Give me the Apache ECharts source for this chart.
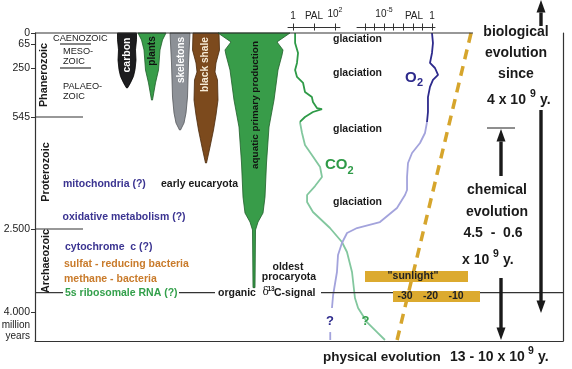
<!DOCTYPE html>
<html><head><meta charset="utf-8">
<script src="https://cdn.jsdelivr.net/npm/echarts@6/dist/echarts.min.js"></script>
<style>html,body{margin:0;padding:0;background:#fff}#c{width:572px;height:369px}</style>
</head><body><div id="c"></div>
<script>
// ================= DATA =================
// left time axis (million years)
const ageTicks = [0, 65, 250, 545, 2500, 4000];
const ageTickLabels = ['0', '65', '250', '545', '2.500', '4.000'];

// spindle diagrams: age (Ma) vs relative half-width
const carbonAges = [0, 40, 110, 190, 260, 300, 320, 345, 370];
const carbonWidth = [9.5, 9.5, 8.5, 9, 8, 6.5, 5, 3, 0.5];
const plantsAges = [0, 41, 111, 262, 340, 443];
const plantsWidth = [14, 10.5, 8, 6.5, 3.5, 0.5];
const skeletonAges = [0, 211, 425, 521, 650, 772];
const skeletonWidth = [10, 8.5, 7.5, 6, 4, 0.5];
const shaleAges = [0, 111, 211, 274, 322, 443, 533, 772, 1069, 1348];
const shaleWidth = [13, 13.5, 10, 9, 11.5, 12, 10, 7.5, 4, 0.5];
const aquaticAges = [0, 53, 111, 150, 262, 443, 720, 1348, 1941, 2221, 2378, 2518, 3560];
const aquaticWidth = [36, 23, 29, 28, 24, 20, 15, 12.5, 11, 9, 4, 1.5, 1];

// CO2 (log10 PAL) vs age
const co2DarkAges = [0, 59, 134, 211, 262, 304, 340, 394, 425, 455, 491, 497, 515, 545, 632];
const co2DarkPal  = [0.10, 0.10, 0.24, 0.19, 0.10, 0.19, 0.48, 0.57, 0.90, 0.95, 1.14, 1.38, 0.95, 0.57, 0.33];
const co2LightAges = [632, 824, 1034, 1208, 1418, 1592, 1750, 1907, 2029, 2203, 2483, 2735, 2916, 3277, 3747, 3928, 4179, 4358, 4500];
const co2LightPal  = [0.33, 0.43, 0.57, 0.90, 1.29, 1.38, 1.05, 0.67, 0.67, 0.95, 1.76, 2.33, 2.57, 2.81, 2.95, 3.10, 3.52, 4.0, 4.38];

// O2 (log10 PAL) vs age
const o2DarkAges = [0, 59, 134, 211, 250, 292, 322, 364, 425, 515, 632];
const o2DarkPal  = [0, 0.1, 0, -0.21, 0.31, 0.63, 0.1, -0.21, -0.42, -0.42, -0.52];
const o2LightAges = [632, 824, 999, 1173, 1348, 1592, 1819, 1907, 2133, 2378, 2483, 2572, 2753, 2970, 3277, 3693, 3928];
const o2LightPal  = [-0.52, -0.73, -1.25, -2.08, -2.5, -2.6, -2.6, -2.81, -3.65, -5.42, -7.81, -8.85, -9.38, -9.79, -9.9, -10.3, -10.42];
const o2TailAges = [4358, 4500];
const o2TailPal  = [-10.6, -10.6];

// PAL scales
const co2TickValues = [0, 1, 2];
const co2LabelValues = [0, 1, 2];
const co2Labels = ['1', 'PAL', '10{s|2}'];
const o2TickValues = [-7, -6, -5, -4, -3, -2, -1, 0];
const o2LabelValues = [-5, -1.875, 0];
const o2Labels = ['10{s|-5}', 'PAL', '1'];

// sunlight (relative luminosity, %) vs age
const sunAges = [0, 4500];
const sunLum = [-4.1, -33.1];
const lumLabels = [-30, -20, -10];

// events
const glaciationAges = [35, 280, 750, 2030];
const d13CAge = 3650;

// ================= LAYOUT / SCALE =================
const FONT = '"Liberation Sans", Arial, Helvetica, sans-serif';
const G = {left: 35, top: 33, width: 528, height: 308};
const GR = G.left + G.width;
const DEPTH_AGES = [0, 65, 250, 545, 2500, 4000, 4500];
const DEPTHS = [0, 11, 35, 84, 196, 279, 307];
function depth(age) {
  let i = 1;
  while (i < DEPTH_AGES.length - 1 && age > DEPTH_AGES[i]) i++;
  return DEPTHS[i - 1] + (age - DEPTH_AGES[i - 1]) * (DEPTHS[i] - DEPTHS[i - 1]) / (DEPTH_AGES[i] - DEPTH_AGES[i - 1]);
}
function py(age) { return G.top + depth(age); }
const LUM0 = 481.5, LUMPX = 2.55;           // luminosity scale
const CO2G = {left: 288, width: 52, zero: 293, perDec: 21};
const O2G = {left: 357, width: 78, zero: 432, perDec: 9.6};

const spindles = [
  {ages: carbonAges, widths: carbonWidth, cx: 127, fill: '#1d1d1f', stroke: '#000'},
  {ages: plantsAges, widths: plantsWidth, cx: 152, fill: '#389c49', stroke: '#1f5e2a'},
  {ages: skeletonAges, widths: skeletonWidth, cx: 180, fill: '#8d9197', stroke: '#55585c'},
  {ages: shaleAges, widths: shaleWidth, cx: 206, fill: '#7c4a1d', stroke: '#4a2a0c'},
  {ages: aquaticAges, widths: aquaticWidth, cx: 254, fill: '#389c49', stroke: '#1f5e2a'}
];

const series = [];
spindles.forEach(s => {
  series.push({
    type: 'custom', xAxisIndex: 0, yAxisIndex: 0, silent: true, z: 3,
    data: s.ages.map((a, i) => [a, s.widths[i]]),
    renderItem: (p, api) => {
      if (p.dataIndex !== 0) return null;
      const L = [], R = [];
      for (let i = 0; i < s.ages.length; i++) {
        const d = depth(s.ages[i]);
        L.push(api.coord([s.cx - s.widths[i], d]));
        R.unshift(api.coord([s.cx + s.widths[i], d]));
      }
      return {type: 'polygon', shape: {points: L.concat(R)}, style: {fill: s.fill, stroke: s.stroke, lineWidth: 0.8}};
    }
  });
});
function lineSeries(xi, xs, ages, color, w, extra) {
  return Object.assign({
    type: 'line', xAxisIndex: xi, yAxisIndex: 0, clip: false, silent: true,
    showSymbol: false, symbol: 'none', animation: false, z: 4,
    data: ages.map((a, i) => [xs[i], depth(a)]),
    lineStyle: {color: color, width: w}
  }, extra || {});
}
// xAxis 2 = CO2 scale, xAxis 3 = O2 scale (both spanning the main grid)
series.push(lineSeries(2, co2LightPal, co2LightAges, '#82c79e', 1.8));
series.push(lineSeries(2, co2DarkPal, co2DarkAges, '#2e9a47', 1.8));
series.push(lineSeries(3, o2LightPal, o2LightAges, '#a3a3dc', 1.8));
series.push(lineSeries(3, o2TailPal, o2TailAges, '#a3a3dc', 1.8));
series.push(lineSeries(3, o2DarkPal, o2DarkAges, '#2d2a8c', 1.8));
series.push(lineSeries(1, sunLum, sunAges, '#d6a52c', 3.5, {lineStyle: {color: '#d6a52c', width: 3.5, type: [10, 7], cap: 'butt'}}));

// ================= GRAPHIC =================
const gfx = [];
function text(t, x, y, o) {
  o = o || {};
  const al = o.align || 'left';
  gfx.push({type: 'text', x: x, y: y, rotation: o.rot || 0, z: 100, silent: true,
    style: {text: t, fill: o.color || '#1a1a1a', fontSize: o.size || 10.5,
      fontWeight: o.bold === false ? 'normal' : 'bold', fontFamily: o.family || FONT,
      align: al, textAlign: al, verticalAlign: 'middle', textVerticalAlign: 'middle'}});
}
function line(x1, y1, x2, y2, w, c) {
  gfx.push({type: 'line', z: 90, silent: true, shape: {x1, y1, x2, y2}, style: {stroke: c || '#333', lineWidth: w || 1}});
}
function rect(x, y, w, h, c) {
  gfx.push({type: 'rect', z: 95, silent: true, shape: {x, y, width: w, height: h}, style: {fill: c}});
}
function poly(pts, c) {
  gfx.push({type: 'polygon', z: 95, silent: true, shape: {points: pts}, style: {fill: c}});
}
function arrow(x, yFrom, yTip, c) {
  const dir = yTip < yFrom ? -1 : 1, hh = 12.5, hw = 4.5, sw = 1.7;
  const base = yTip - dir * hh;
  rect(x - sw, Math.min(yFrom, base), 2 * sw, Math.abs(base - yFrom) + 1, c);
  poly([[x, yTip], [x - hw, base], [x + hw, base]], c);
}

// frame top line
line(G.left, G.top, 473, G.top, 1.2, '#333');
// era boundary lines
line(60, py(65), 91, py(65), 1.2, '#333');
line(60, py(250), 91, py(250), 1.2, '#333');
line(G.left, py(545), 83, py(545), 1.2, '#333');
line(G.left, py(2500), 83, py(2500), 1.2, '#333');
// delta13C line segments
const yd = py(d13CAge);
line(G.left, yd, 63, yd, 1.2, '#333');
line(179, yd, 215, yd, 1.2, '#333');
line(321, yd, GR, yd, 1.2, '#333');

// era labels
text('CAENOZOIC', 53, 38, {bold: false, size: 9.2, color: '#222'});
text('MESO-', 63, 51, {bold: false, size: 9.2, color: '#222'});
text('ZOIC', 63, 61, {bold: false, size: 9.2, color: '#222'});
text('PALAEO-', 63, 86.5, {bold: false, size: 9.2, color: '#222'});
text('ZOIC', 63, 96.5, {bold: false, size: 9.2, color: '#222'});
text('Phanerozoic', 44.5, 75, {rot: Math.PI / 2, align: 'center', size: 10.8});
text('Proterozoic', 46.5, 172, {rot: Math.PI / 2, align: 'center', size: 10.8});
text('Archaeozoic', 46.5, 261, {rot: Math.PI / 2, align: 'center', size: 10.8});
text('million', 30, 325, {bold: false, size: 10, align: 'right', color: '#222'});
text('years', 30, 336.5, {bold: false, size: 10, align: 'right', color: '#222'});

// spindle labels
text('carbon', 127, 55, {rot: Math.PI / 2, align: 'center', color: '#fff', size: 10.5});
text('plants', 152, 51, {rot: Math.PI / 2, align: 'center', color: '#111', size: 10});
text('skeletons', 181, 60, {rot: Math.PI / 2, align: 'center', color: '#fff', size: 10});
text('black shale', 205.5, 64.5, {rot: Math.PI / 2, align: 'center', color: '#f6ecd8', size: 10.2});
text('aquatic primary production', 255, 105, {rot: Math.PI / 2, align: 'center', color: '#111', size: 9.9});

// biological events
const BLUE = '#3b3491', ORANGE = '#c97b2b', GREEN = '#33a04b';
text('mitochondria (?)', 63, 184, {color: BLUE});
text('early eucaryota', 161, 184);
text('oxidative metabolism (?)', 62.5, 217, {color: BLUE});
text('cytochrome  c (?)', 65, 247, {color: BLUE});
text('sulfat - reducing bacteria', 64, 264.5, {color: ORANGE});
text('methane - bacteria', 64, 279, {color: ORANGE});
text('5s ribosomale RNA (?)', 65, yd, {color: GREEN});
text('organic', 218, yd);
text('\u03b4', 262.5, yd, {size: 10.5, family: '"DejaVu Serif", "Liberation Serif", serif', bold: false});
text('13', 267.5, yd - 3.5, {size: 6.5});
text('C-signal', 274, yd);
text('oldest', 288, 267, {align: 'center'});
text('procaryota', 289, 277.5, {align: 'center'});

glaciationAges.forEach(a => text('glaciation', 333, py(a)));

text('CO', 325, 165, {size: 15, color: '#2e9a47'});
text('2', 347.5, 170.5, {size: 11, color: '#2e9a47'});
text('O', 405, 77.5, {size: 15, color: '#2d2a8c'});
text('2', 417, 82.5, {size: 11, color: '#2d2a8c'});
text('?', 330, 321, {size: 13, color: '#2d2a8c', align: 'center'});
text('?', 365.5, 321, {size: 13, color: '#33a04b', align: 'center'});

// sunlight boxes
const GOLD = '#dcaa2f';
rect(365, 271, 103, 11, GOLD);
rect(393, 291, 87, 11, GOLD);
text('"sunlight"', 413, 276.5, {align: 'center', color: '#222'});
lumLabels.forEach(v => text(String(v), LUM0 + LUMPX * v, 296.5, {align: 'center', color: '#222'}));

// right side: evolution arrows and texts
const AK = '#1a1a1a';
arrow(541, 25, 0, AK);
arrow(541, 110, 313, AK);
line(487, 128, 515, 128, 1.2, '#444');
arrow(501, 175, 129, AK);
arrow(501, 278, 340, AK);

text('biological', 516, 32, {size: 14, align: 'center'});
text('evolution', 516, 53, {size: 14, align: 'center'});
text('since', 516, 74, {size: 14, align: 'center'});
text('4 x 10', 487, 100, {size: 14});
text('9', 530, 94.5, {size: 10.5});
text('y.', 540, 100, {size: 14});
text('chemical', 497, 190, {size: 14, align: 'center'});
text('evolution', 497, 212, {size: 14, align: 'center'});
text('4.5  -  0.6', 493, 233, {size: 14, align: 'center'});
text('x 10', 462, 260, {size: 14});
text('9', 493, 254.5, {size: 10.5});
text('y.', 503, 260, {size: 14});
text('physical evolution', 323, 357, {size: 13.5});
text('13 - 10 x 10', 450, 357, {size: 14});
text('9', 528, 351.5, {size: 10.5});
text('y.', 538, 357, {size: 14});

// ================= OPTION =================
const tickDepths = ageTicks.map(depth);
const palLabelStyle = {fontSize: 10, color: '#222', fontFamily: FONT, margin: 6,
  rich: {s: {fontSize: 7, fontFamily: FONT, color: '#222', padding: [0, 0, 7, 0]}}};
function nearestLabel(vals, labels) {
  return v => { let k = 0, best = 1e9; vals.forEach((lv, i) => { if (Math.abs(lv - v) < best) { best = Math.abs(lv - v); k = i; } }); return labels[k]; };
}
function palAxes(gi, min, max, tickVals, labelVals, labels) {
  return [
    {gridIndex: gi, type: 'value', position: 'top', offset: 6, min, max,
      axisLine: {show: true, onZero: false, lineStyle: {color: '#333', width: 1}},
      axisTick: {show: true, inside: false, length: 3.5, customValues: tickVals, lineStyle: {color: '#333'}},
      axisLabel: Object.assign({show: true, customValues: labelVals, formatter: nearestLabel(labelVals, labels)}, palLabelStyle),
      splitLine: {show: false}},
    {gridIndex: gi, type: 'value', position: 'top', offset: 6, min, max,
      axisLine: {show: false, onZero: false},
      axisTick: {show: true, inside: true, length: 3.5, customValues: tickVals, lineStyle: {color: '#333'}},
      axisLabel: {show: false}, splitLine: {show: false}}
  ];
}
const hiddenY = gi => ({gridIndex: gi, type: 'value', min: 0, max: G.height, inverse: true, show: false,
  axisLine: {show: false, onZero: false}, axisTick: {show: false}, axisLabel: {show: false}, splitLine: {show: false}});
const hiddenX = (min, max) => ({gridIndex: 0, type: 'value', show: false, min, max,
  axisLine: {show: false, onZero: false}, axisTick: {show: false}, axisLabel: {show: false}, splitLine: {show: false}});

const option = {
  animation: false,
  backgroundColor: '#fff',
  grid: [
    {left: G.left, top: G.top, width: G.width, height: G.height},
    {left: CO2G.left, top: G.top, width: CO2G.width, height: G.height},
    {left: O2G.left, top: G.top, width: O2G.width, height: G.height}
  ],
  xAxis: [
    {gridIndex: 0, type: 'value', min: G.left, max: GR, position: 'bottom',
      axisLine: {show: true, onZero: false, lineStyle: {color: '#333', width: 1.2}}, axisTick: {show: false}, axisLabel: {show: false}, splitLine: {show: false}},
    hiddenX((G.left - LUM0) / LUMPX, (GR - LUM0) / LUMPX),
    hiddenX((G.left - CO2G.zero) / CO2G.perDec, (GR - CO2G.zero) / CO2G.perDec),
    hiddenX((G.left - O2G.zero) / O2G.perDec, (GR - O2G.zero) / O2G.perDec),
    ...palAxes(1, (CO2G.left - CO2G.zero) / CO2G.perDec, (CO2G.left + CO2G.width - CO2G.zero) / CO2G.perDec, co2TickValues, co2LabelValues, co2Labels),
    ...palAxes(2, (O2G.left - O2G.zero) / O2G.perDec, (O2G.left + O2G.width - O2G.zero) / O2G.perDec, o2TickValues, o2LabelValues, o2Labels)
  ],
  yAxis: [
    {gridIndex: 0, type: 'value', min: 0, max: G.height, inverse: true, position: 'left',
      axisLine: {show: true, onZero: false, lineStyle: {color: '#333', width: 1.2}},
      axisTick: {show: true, length: 4, customValues: tickDepths, lineStyle: {color: '#333'}},
      axisLabel: {show: true, customValues: tickDepths, margin: 5, fontSize: 10.5, color: '#222', fontFamily: FONT,
        formatter: nearestLabel(tickDepths, ageTickLabels)},
      splitLine: {show: false}},
    {gridIndex: 0, type: 'value', min: 0, max: G.height, inverse: true, position: 'right',
      axisLine: {show: true, onZero: false, lineStyle: {color: '#333', width: 1.2}}, axisTick: {show: false}, axisLabel: {show: false}, splitLine: {show: false}},
    hiddenY(1), hiddenY(2)
  ],
  series: series,
  graphic: gfx
};
const chart = echarts.init(document.getElementById('c'), null, {renderer: 'canvas'});
chart.setOption(option);
</script>
</body></html>
